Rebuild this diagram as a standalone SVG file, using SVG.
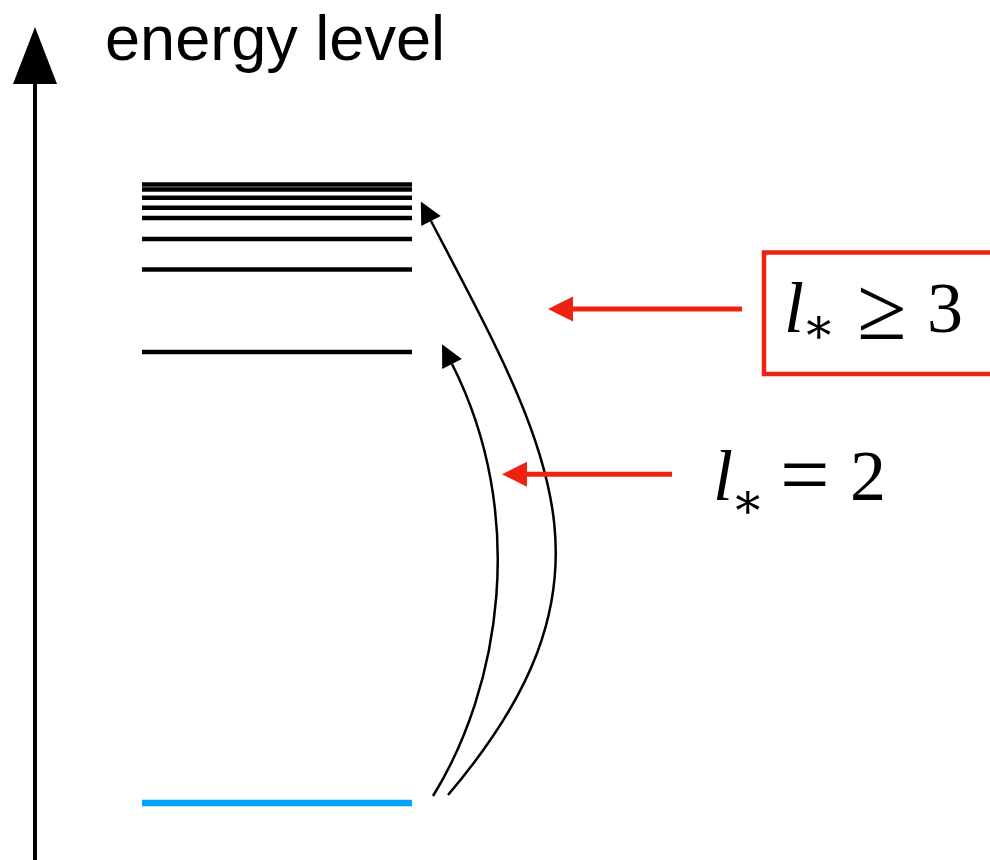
<svg xmlns="http://www.w3.org/2000/svg" width="990" height="860" viewBox="0 0 990 860">
<style>
.lvl{stroke:#000;stroke-width:4.5}
.curve{fill:none;stroke:#000;stroke-width:2.5}
.red{stroke:#EE2211;stroke-width:5;fill:none}
.sans{font-family:"Liberation Sans",Arial,sans-serif;fill:#000}
.math{font-family:"Liberation Serif","Times New Roman",serif;fill:#000;font-size:72px}
.ast{font-family:"DejaVu Serif","Liberation Serif",serif;font-size:50px;font-style:normal}
</style>
<defs>
<marker id="blk" markerUnits="userSpaceOnUse" viewBox="-1 -12 24 24" refX="0" refY="0" markerWidth="24" markerHeight="24" orient="auto">
<path d="M22,0 L0,-11 L0,11 Z" fill="#000"/>
</marker>
<marker id="redh" markerUnits="userSpaceOnUse" viewBox="-1 -13 27 26" refX="0" refY="0" markerWidth="27" markerHeight="26" orient="auto">
<path d="M25,0 L0,-12.5 L0,12.5 Z" fill="#EE2211"/>
</marker>
</defs>
<rect width="990" height="860" fill="#fff"/>
<g id="axis">
<line x1="35" y1="860" x2="35" y2="82" stroke="#000" stroke-width="4"/>
<polygon points="35,27 13,84 57,84" fill="#000"/>
<text class="sans" x="105" y="60" font-size="63.5" textLength="340" lengthAdjust="spacingAndGlyphs">energy level</text>
</g>
<g id="levels">
<line class="lvl" x1="142" y1="184.5" x2="412" y2="184.5"/>
<line class="lvl" x1="142" y1="189.5" x2="412" y2="189.5"/>
<line class="lvl" x1="142" y1="197.8" x2="412" y2="197.8"/>
<line class="lvl" x1="142" y1="207.7" x2="412" y2="207.7"/>
<line class="lvl" x1="142" y1="218" x2="412" y2="218"/>
<line class="lvl" x1="142" y1="239" x2="412" y2="239"/>
<line class="lvl" x1="142" y1="269.5" x2="412" y2="269.5"/>
<line class="lvl" x1="142" y1="352" x2="412" y2="352"/>
</g>
<g id="ground">
<line x1="142" y1="803" x2="412" y2="803" stroke="#00A2FF" stroke-width="6.5"/>
</g>
<g id="connectors">
<path class="curve" d="M433,796 C500,688 528.5,515 452,364" marker-end="url(#blk)"/>
<path class="curve" d="M448,795 C631,580 550.6,449.8 431,221" marker-end="url(#blk)"/>
<path class="red" d="M742,309 L573,309" marker-end="url(#redh)"/>
<path class="red" d="M672,474.3 L527,474.3" marker-end="url(#redh)"/>
</g>
<g id="label-l3">
<rect x="764" y="252.5" width="300" height="121.5" fill="none" stroke="#EE2211" stroke-width="4.5"/>
<text class="math"><tspan x="784" y="332" font-style="italic">l</tspan><tspan class="ast" x="802" y="343">∗</tspan><tspan x="857" y="339" font-size="90">≥</tspan><tspan x="927" y="332">3</tspan></text>
</g>
<g id="label-l2">
<text class="math"><tspan x="713" y="500" font-style="italic">l</tspan><tspan class="ast" x="731" y="518">∗</tspan><tspan x="780" y="504" font-size="88">=</tspan><tspan x="850" y="500">2</tspan></text>
</g>
</svg>
